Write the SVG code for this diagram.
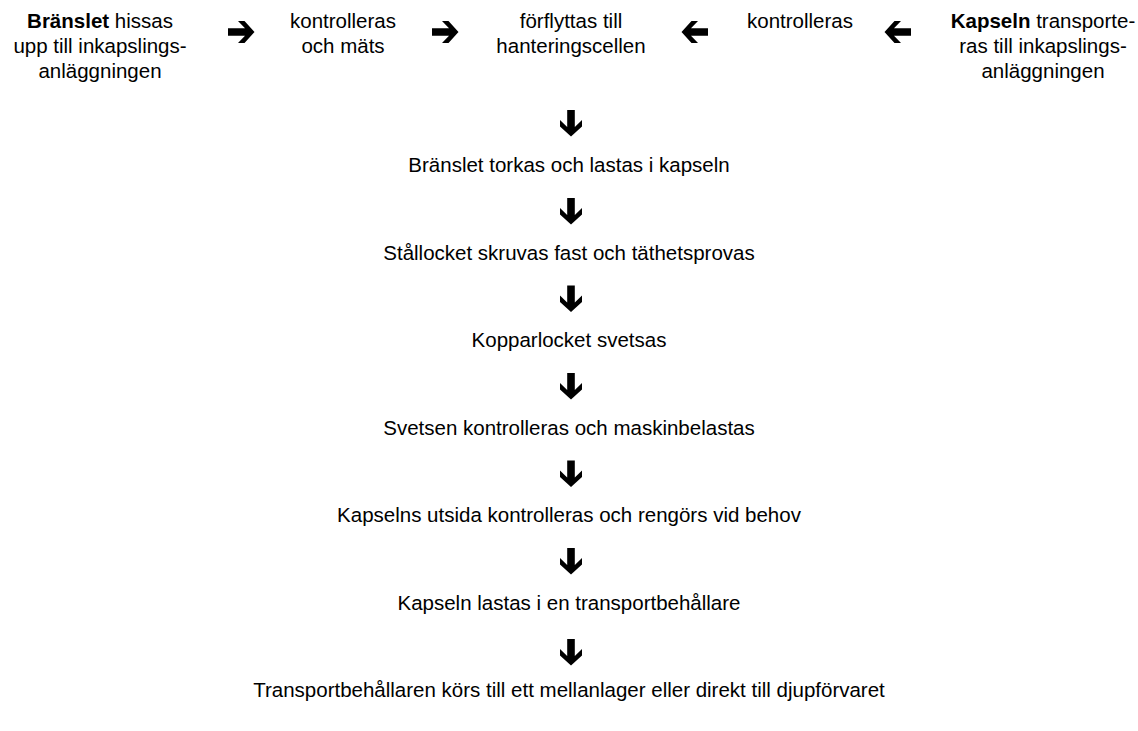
<svg xmlns="http://www.w3.org/2000/svg" xmlns:xlink="http://www.w3.org/1999/xlink" width="1138" height="731" viewBox="0 0 1138 731">
<style>
text{font-family:"Liberation Sans",Arial,Helvetica,sans-serif;font-size:20.5px;fill:#000;text-anchor:middle}
.b{font-weight:bold}
</style>
<defs>
<path id="ar" d="M-13,-3.8 L4,-3.8 L-3,-11 L3.5,-11 L13.5,0 L3.5,11 L-3,11 L4,3.8 L-13,3.8 Z" fill="#000"/>
</defs>
<rect width="1138" height="731" fill="#fff"/>
<g id="connectors">
<use xlink:href="#ar" transform="translate(241,32)"/>
<use xlink:href="#ar" transform="translate(445,32)"/>
<use xlink:href="#ar" transform="translate(695,32) rotate(180)"/>
<use xlink:href="#ar" transform="translate(898,32) rotate(180)"/>
<use xlink:href="#ar" transform="translate(571,123) rotate(90)"/>
<use xlink:href="#ar" transform="translate(571,211) rotate(90)"/>
<use xlink:href="#ar" transform="translate(571,298.5) rotate(90)"/>
<use xlink:href="#ar" transform="translate(571,386) rotate(90)"/>
<use xlink:href="#ar" transform="translate(571,473.5) rotate(90)"/>
<use xlink:href="#ar" transform="translate(571,561) rotate(90)"/>
<use xlink:href="#ar" transform="translate(571,652) rotate(90)"/>
</g>
<g id="n1"><text x="100" y="28"><tspan class="b">Bränslet</tspan> hissas</text><text x="100" y="53">upp till inkapslings-</text><text x="100" y="78">anläggningen</text></g>
<g id="n2"><text x="343" y="28">kontrolleras</text><text x="343" y="53">och mäts</text></g>
<g id="n3"><text x="571" y="28">förflyttas till</text><text x="571" y="53">hanteringscellen</text></g>
<g id="n4"><text x="800" y="28">kontrolleras</text></g>
<g id="n5"><text x="1043" y="28"><tspan class="b">Kapseln</tspan> transporte-</text><text x="1043" y="53">ras till inkapslings-</text><text x="1043" y="78">anläggningen</text></g>
<g id="s1"><text x="569" y="172">Bränslet torkas och lastas i kapseln</text></g>
<g id="s2"><text x="569" y="260">Stållocket skruvas fast och täthetsprovas</text></g>
<g id="s3"><text x="569" y="347">Kopparlocket svetsas</text></g>
<g id="s4"><text x="569" y="434.5">Svetsen kontrolleras och maskinbelastas</text></g>
<g id="s5"><text x="569" y="522">Kapselns utsida kontrolleras och rengörs vid behov</text></g>
<g id="s6"><text x="569" y="609.5">Kapseln lastas i en transportbehållare</text></g>
<g id="s7"><text x="569" y="697">Transportbehållaren körs till ett mellanlager eller direkt till djupförvaret</text></g>
</svg>
